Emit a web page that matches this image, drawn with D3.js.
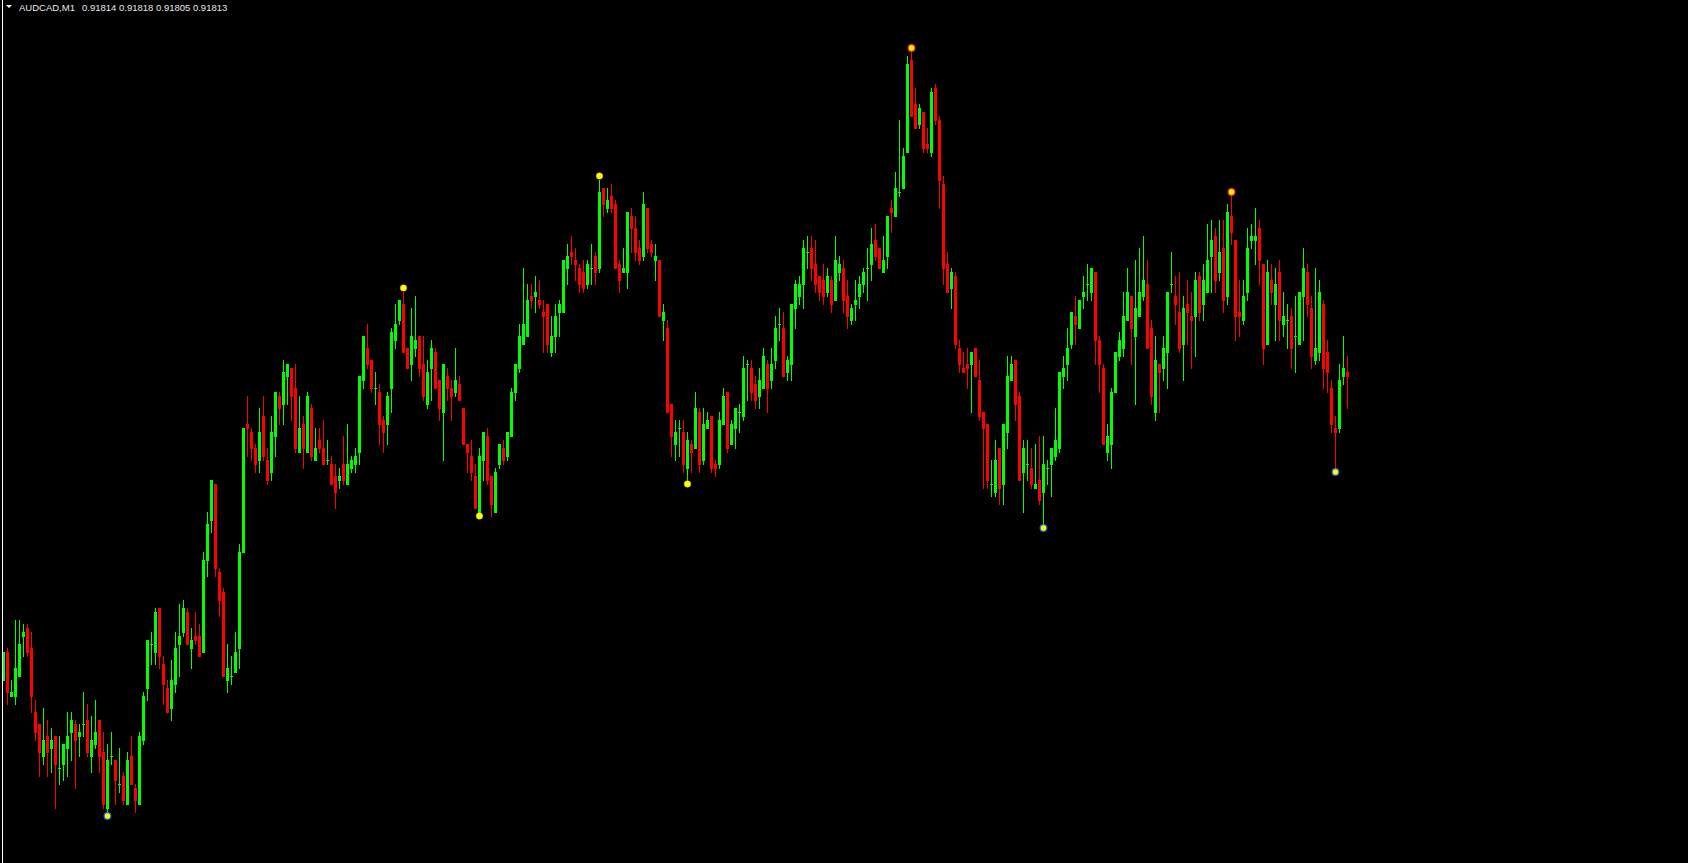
<!DOCTYPE html>
<html><head><meta charset="utf-8">
<script src="https://cdn.jsdelivr.net/npm/d3@7"></script>
<style>html,body{margin:0;padding:0;background:#000;overflow:hidden}</style>
</head><body>
<svg id="chart" width="1688" height="863"></svg>
<script>
const symbol = "AUDCAD,M1";
const open = [
0.91737,0.91744,0.91733,0.91733,0.91738,0.91748,0.91750,0.91745,0.91729,0.91726,
0.91718,0.91723,0.91720,0.91723,0.91715,0.91716,0.91720,0.91724,0.91726,0.91723,
0.91726,0.91727,0.91718,0.91721,0.91727,0.91719,0.91705,0.91718,0.91717,0.91711,
0.91713,0.91706,0.91718,0.91710,0.91706,0.91722,0.91735,0.91746,0.91744,0.91755,
0.91741,0.91735,0.91730,0.91736,0.91746,0.91749,0.91754,0.91745,0.91748,0.91748,
0.91744,0.91767,0.91777,0.91786,0.91764,0.91759,0.91737,0.91738,0.91739,0.91745,
0.91769,0.91801,0.91799,0.91795,0.91792,0.91803,0.91792,0.91789,0.91798,0.91808,
0.91806,0.91813,0.91815,0.91810,0.91794,0.91801,0.91794,0.91805,0.91792,0.91797,
0.91795,0.91792,0.91791,0.91788,0.91787,0.91791,0.91786,0.91790,0.91791,0.91794,
0.91812,0.91820,0.91817,0.91810,0.91809,0.91802,0.91801,0.91810,0.91822,0.91827,
0.91831,0.91820,0.91816,0.91820,0.91823,0.91816,0.91806,0.91815,0.91819,0.91812,
0.91804,0.91813,0.91810,0.91809,0.91811,0.91805,0.91796,0.91793,0.91788,0.91779,
0.91792,0.91798,0.91788,0.91779,0.91791,0.91795,0.91793,0.91798,0.91809,0.91815,
0.91821,0.91823,0.91833,0.91833,0.91832,0.91829,0.91831,0.91819,0.91823,0.91829,
0.91829,0.91840,0.91844,0.91842,0.91840,0.91839,0.91836,0.91840,0.91843,0.91840,
0.91860,0.91855,0.91858,0.91856,0.91841,0.91839,0.91839,0.91853,0.91850,0.91845,
0.91843,0.91855,0.91846,0.91842,0.91842,0.91827,0.91825,0.91806,0.91796,0.91800,
0.91799,0.91790,0.91796,0.91795,0.91804,0.91792,0.91800,0.91803,0.91791,0.91791,
0.91801,0.91809,0.91796,0.91800,0.91804,0.91803,0.91816,0.91815,0.91811,0.91808,
0.91810,0.91816,0.91812,0.91817,0.91826,0.91825,0.91814,0.91816,0.91830,0.91833,
0.91836,0.91844,0.91845,0.91841,0.91838,0.91837,0.91834,0.91837,0.91832,0.91839,
0.91840,0.91833,0.91827,0.91831,0.91833,0.91836,0.91840,0.91841,0.91847,0.91845,
0.91839,0.91843,0.91855,0.91853,0.91859,0.91860,0.91869,0.91892,0.91881,0.91876,
0.91879,0.91871,0.91869,0.91885,0.91877,0.91861,0.91841,0.91835,0.91838,0.91820,
0.91815,0.91816,0.91816,0.91820,0.91812,0.91804,0.91801,0.91786,0.91784,0.91795,
0.91786,0.91799,0.91812,0.91817,0.91808,0.91789,0.91791,0.91790,0.91785,0.91787,
0.91784,0.91790,0.91791,0.91793,0.91795,0.91813,0.91816,0.91821,0.91828,0.91825,
0.91833,0.91836,0.91834,0.91839,0.91822,0.91815,0.91794,0.91796,0.91809,0.91818,
0.91820,0.91827,0.91833,0.91823,0.91828,0.91833,0.91836,0.91825,0.91804,0.91816,
0.91815,0.91819,0.91836,0.91833,0.91829,0.91821,0.91831,0.91828,0.91828,0.91838,
0.91831,0.91834,0.91843,0.91848,0.91839,0.91845,0.91833,0.91853,0.91847,0.91829,
0.91827,0.91834,0.91847,0.91847,0.91850,0.91841,0.91821,0.91837,0.91831,0.91839,
0.91826,0.91827,0.91828,0.91823,0.91821,0.91833,0.91839,0.91830,0.91817,0.91819,
0.91831,0.91819,0.91810,0.91800,0.91800,0.91813,0.91814];
const high = [
0.91744,0.91745,0.91737,0.91752,0.91752,0.91751,0.91751,0.91749,0.91732,0.91726,
0.91730,0.91727,0.91725,0.91723,0.91723,0.91721,0.91729,0.91729,0.91727,0.91726,
0.91734,0.91731,0.91728,0.91732,0.91727,0.91724,0.91721,0.91724,0.91717,0.91720,
0.91714,0.91719,0.91723,0.91711,0.91724,0.91734,0.91747,0.91749,0.91755,0.91755,
0.91743,0.91737,0.91742,0.91749,0.91756,0.91757,0.91755,0.91750,0.91754,0.91751,
0.91769,0.91779,0.91787,0.91786,0.91765,0.91760,0.91746,0.91743,0.91749,0.91771,
0.91800,0.91808,0.91800,0.91796,0.91805,0.91808,0.91795,0.91803,0.91809,0.91809,
0.91817,0.91816,0.91815,0.91816,0.91808,0.91803,0.91809,0.91806,0.91800,0.91800,
0.91802,0.91797,0.91793,0.91791,0.91790,0.91798,0.91801,0.91793,0.91795,0.91813,
0.91823,0.91826,0.91817,0.91814,0.91811,0.91803,0.91809,0.91825,0.91831,0.91832,
0.91834,0.91820,0.91830,0.91833,0.91823,0.91823,0.91817,0.91822,0.91820,0.91812,
0.91816,0.91815,0.91812,0.91820,0.91813,0.91805,0.91796,0.91797,0.91791,0.91795,
0.91799,0.91800,0.91788,0.91790,0.91796,0.91797,0.91799,0.91810,0.91816,0.91826,
0.91840,0.91836,0.91836,0.91838,0.91837,0.91832,0.91831,0.91828,0.91831,0.91832,
0.91842,0.91846,0.91848,0.91845,0.91841,0.91842,0.91842,0.91846,0.91844,0.91862,
0.91860,0.91860,0.91861,0.91857,0.91842,0.91845,0.91854,0.91855,0.91853,0.91847,
0.91859,0.91855,0.91847,0.91846,0.91842,0.91831,0.91827,0.91806,0.91802,0.91802,
0.91802,0.91799,0.91797,0.91809,0.91805,0.91805,0.91804,0.91803,0.91792,0.91804,
0.91810,0.91809,0.91802,0.91805,0.91806,0.91818,0.91817,0.91817,0.91813,0.91815,
0.91820,0.91817,0.91820,0.91828,0.91830,0.91829,0.91818,0.91831,0.91837,0.91838,
0.91847,0.91848,0.91848,0.91847,0.91838,0.91841,0.91840,0.91838,0.91848,0.91843,
0.91842,0.91837,0.91831,0.91837,0.91838,0.91840,0.91845,0.91850,0.91851,0.91845,
0.91848,0.91853,0.91857,0.91864,0.91877,0.91870,0.91893,0.91894,0.91885,0.91881,
0.91879,0.91875,0.91885,0.91886,0.91878,0.91863,0.91844,0.91840,0.91839,0.91822,
0.91819,0.91820,0.91819,0.91820,0.91817,0.91804,0.91801,0.91792,0.91797,0.91795,
0.91801,0.91818,0.91818,0.91817,0.91809,0.91797,0.91797,0.91795,0.91796,0.91798,
0.91798,0.91792,0.91795,0.91805,0.91814,0.91818,0.91825,0.91829,0.91833,0.91832,
0.91838,0.91841,0.91840,0.91839,0.91823,0.91816,0.91801,0.91810,0.91819,0.91824,
0.91834,0.91840,0.91833,0.91842,0.91845,0.91848,0.91842,0.91827,0.91823,0.91816,
0.91823,0.91834,0.91844,0.91838,0.91839,0.91833,0.91837,0.91834,0.91839,0.91839,
0.91841,0.91851,0.91852,0.91850,0.91852,0.91852,0.91856,0.91858,0.91847,0.91837,
0.91837,0.91850,0.91851,0.91855,0.91852,0.91841,0.91842,0.91841,0.91840,0.91842,
0.91834,0.91831,0.91830,0.91833,0.91834,0.91845,0.91841,0.91833,0.91840,0.91837,
0.91832,0.91822,0.91812,0.91803,0.91816,0.91823,0.91818];
const low = [
0.91737,0.91731,0.91733,0.91731,0.91738,0.91743,0.91743,0.91729,0.91722,0.91713,
0.91716,0.91713,0.91714,0.91705,0.91711,0.91712,0.91713,0.91717,0.91710,0.91718,
0.91723,0.91718,0.91714,0.91720,0.91714,0.91705,0.91704,0.91716,0.91706,0.91709,
0.91706,0.91706,0.91711,0.91704,0.91706,0.91721,0.91732,0.91741,0.91741,0.91740,
0.91731,0.91729,0.91727,0.91734,0.91738,0.91748,0.91746,0.91740,0.91746,0.91743,
0.91744,0.91763,0.91774,0.91763,0.91753,0.91738,0.91734,0.91736,0.91739,0.91740,
0.91769,0.91793,0.91792,0.91789,0.91789,0.91792,0.91786,0.91787,0.91793,0.91801,
0.91801,0.91806,0.91802,0.91794,0.91794,0.91790,0.91794,0.91792,0.91792,0.91794,
0.91791,0.91791,0.91786,0.91780,0.91785,0.91786,0.91786,0.91789,0.91789,0.91791,
0.91810,0.91815,0.91809,0.91806,0.91796,0.91794,0.91796,0.91804,0.91820,0.91826,
0.91819,0.91815,0.91812,0.91818,0.91813,0.91807,0.91805,0.91807,0.91810,0.91802,
0.91792,0.91807,0.91802,0.91808,0.91807,0.91796,0.91789,0.91787,0.91780,0.91779,
0.91787,0.91786,0.91778,0.91779,0.91790,0.91791,0.91792,0.91798,0.91807,0.91814,
0.91821,0.91823,0.91830,0.91829,0.91830,0.91819,0.91819,0.91818,0.91819,0.91823,
0.91829,0.91836,0.91841,0.91837,0.91834,0.91834,0.91835,0.91836,0.91836,0.91839,
0.91853,0.91854,0.91854,0.91840,0.91834,0.91839,0.91835,0.91844,0.91842,0.91841,
0.91842,0.91844,0.91843,0.91837,0.91828,0.91822,0.91804,0.91793,0.91792,0.91793,
0.91789,0.91787,0.91789,0.91795,0.91789,0.91791,0.91800,0.91789,0.91788,0.91790,
0.91801,0.91794,0.91796,0.91795,0.91799,0.91802,0.91807,0.91807,0.91805,0.91805,
0.91810,0.91804,0.91810,0.91815,0.91822,0.91813,0.91812,0.91812,0.91825,0.91831,
0.91830,0.91840,0.91837,0.91834,0.91832,0.91831,0.91833,0.91829,0.91832,0.91837,
0.91829,0.91825,0.91826,0.91827,0.91830,0.91834,0.91832,0.91837,0.91842,0.91840,
0.91839,0.91840,0.91849,0.91853,0.91858,0.91860,0.91869,0.91878,0.91875,0.91875,
0.91869,0.91869,0.91868,0.91876,0.91855,0.91836,0.91834,0.91830,0.91820,0.91814,
0.91814,0.91810,0.91804,0.91813,0.91802,0.91785,0.91785,0.91783,0.91783,0.91781,
0.91781,0.91795,0.91812,0.91802,0.91787,0.91779,0.91787,0.91785,0.91785,0.91781,
0.91776,0.91786,0.91783,0.91792,0.91794,0.91810,0.91812,0.91820,0.91821,0.91825,
0.91830,0.91832,0.91832,0.91816,0.91809,0.91796,0.91792,0.91790,0.91809,0.91817,
0.91818,0.91827,0.91816,0.91806,0.91828,0.91832,0.91820,0.91806,0.91802,0.91804,
0.91812,0.91810,0.91834,0.91826,0.91819,0.91812,0.91821,0.91815,0.91818,0.91827,
0.91827,0.91834,0.91834,0.91834,0.91837,0.91829,0.91831,0.91846,0.91822,0.91823,
0.91826,0.91832,0.91845,0.91841,0.91836,0.91816,0.91821,0.91831,0.91822,0.91822,
0.91823,0.91820,0.91815,0.91814,0.91821,0.91822,0.91828,0.91815,0.91816,0.91817,
0.91810,0.91809,0.91799,0.91790,0.91799,0.91811,0.91805];
const close = [
0.91744,0.91734,0.91734,0.91740,0.91746,0.91749,0.91744,0.91733,0.91724,0.91719,
0.91722,0.91719,0.91722,0.91716,0.91715,0.91721,0.91723,0.91727,0.91722,0.91724,
0.91726,0.91719,0.91722,0.91724,0.91718,0.91706,0.91717,0.91718,0.91712,0.91711,
0.91707,0.91717,0.91711,0.91707,0.91723,0.91733,0.91747,0.91746,0.91754,0.91743,
0.91736,0.91729,0.91737,0.91745,0.91748,0.91755,0.91746,0.91747,0.91747,0.91743,
0.91767,0.91776,0.91787,0.91765,0.91757,0.91738,0.91740,0.91738,0.91744,0.91769,
0.91800,0.91800,0.91795,0.91791,0.91799,0.91793,0.91787,0.91799,0.91809,0.91805,
0.91814,0.91816,0.91808,0.91795,0.91800,0.91795,0.91808,0.91793,0.91795,0.91795,
0.91791,0.91792,0.91786,0.91784,0.91788,0.91787,0.91791,0.91792,0.91793,0.91813,
0.91823,0.91816,0.91810,0.91810,0.91801,0.91799,0.91808,0.91824,0.91826,0.91832,
0.91819,0.91815,0.91823,0.91822,0.91815,0.91808,0.91814,0.91820,0.91810,0.91805,
0.91816,0.91810,0.91808,0.91812,0.91807,0.91796,0.91794,0.91789,0.91780,0.91793,
0.91799,0.91787,0.91781,0.91789,0.91796,0.91792,0.91799,0.91809,0.91816,0.91823,
0.91826,0.91832,0.91832,0.91834,0.91831,0.91828,0.91821,0.91823,0.91828,0.91831,
0.91842,0.91843,0.91843,0.91841,0.91836,0.91835,0.91841,0.91840,0.91839,0.91859,
0.91856,0.91857,0.91855,0.91840,0.91837,0.91840,0.91854,0.91850,0.91844,0.91842,
0.91856,0.91845,0.91844,0.91843,0.91828,0.91829,0.91804,0.91798,0.91799,0.91800,
0.91791,0.91797,0.91794,0.91805,0.91791,0.91801,0.91802,0.91790,0.91790,0.91802,
0.91808,0.91795,0.91801,0.91805,0.91804,0.91815,0.91816,0.91809,0.91807,0.91812,
0.91818,0.91810,0.91816,0.91825,0.91826,0.91813,0.91817,0.91831,0.91836,0.91836,
0.91845,0.91844,0.91840,0.91836,0.91834,0.91833,0.91838,0.91831,0.91842,0.91841,
0.91832,0.91828,0.91830,0.91832,0.91836,0.91839,0.91840,0.91846,0.91843,0.91840,
0.91842,0.91853,0.91854,0.91860,0.91859,0.91868,0.91891,0.91878,0.91875,0.91880,
0.91870,0.91870,0.91884,0.91877,0.91862,0.91840,0.91834,0.91839,0.91821,0.91816,
0.91814,0.91815,0.91819,0.91813,0.91803,0.91800,0.91787,0.91786,0.91792,0.91785,
0.91801,0.91813,0.91816,0.91806,0.91787,0.91795,0.91791,0.91786,0.91786,0.91782,
0.91791,0.91790,0.91795,0.91797,0.91814,0.91815,0.91820,0.91829,0.91826,0.91832,
0.91834,0.91836,0.91840,0.91822,0.91816,0.91796,0.91798,0.91809,0.91819,0.91822,
0.91828,0.91834,0.91825,0.91830,0.91834,0.91837,0.91820,0.91808,0.91817,0.91814,
0.91820,0.91834,0.91836,0.91831,0.91820,0.91830,0.91829,0.91827,0.91837,0.91829,
0.91837,0.91842,0.91847,0.91837,0.91844,0.91832,0.91854,0.91849,0.91828,0.91828,
0.91833,0.91845,0.91848,0.91848,0.91842,0.91820,0.91839,0.91834,0.91836,0.91827,
0.91828,0.91827,0.91820,0.91823,0.91834,0.91840,0.91831,0.91818,0.91820,0.91834,
0.91815,0.91814,0.91801,0.91799,0.91812,0.91815,0.91813];
const swingHighs = [100, 149, 227, 307];
const swingLows = [26, 119, 171, 260, 333];
const ringedHighs = [227, 307];
const ringedLows = [26, 260, 333];

const W = 1688, H = 863;
const n = close.length;
const svg = d3.select("#chart");
svg.append("rect").attr("width", W).attr("height", H).attr("fill", "#000");

const x = d3.scaleBand().domain(d3.range(n)).range([2, 2 + 4 * n - 1]).paddingInner(0.25);
const y = d3.scaleLinear().domain([0.9169125, 0.91907]).range([H, 0]);
const X = i => Math.round(x(i));
const Y = v => Math.round(y(v));
const bw = Math.round(x.bandwidth());
const col = i => close[i] >= open[i] ? "#00ff00" : "#ff0000";

const g = svg.append("g").attr("shape-rendering", "crispEdges");
const c = g.selectAll("g.c").data(d3.range(n)).join("g").attr("class", "c");
c.append("rect")
  .attr("x", i => X(i) + 1).attr("width", 1)
  .attr("y", i => Y(high[i]))
  .attr("height", i => Y(low[i]) - Y(high[i]) + 1)
  .attr("fill", col);
c.append("rect")
  .attr("x", i => X(i)).attr("width", bw)
  .attr("y", i => Y(Math.max(open[i], close[i])))
  .attr("height", i => Math.abs(Y(open[i]) - Y(close[i])) + 1)
  .attr("fill", col);

// swing markers
const mk = svg.append("g");
mk.selectAll("circle.h").data(swingHighs).join("circle")
  .attr("cx", i => X(i) + 1.5).attr("cy", i => Y(high[i]) - 4)
  .attr("r", 3.3)
  .attr("fill", "#ffff00")
  .attr("stroke", i => ringedHighs.includes(i) ? "#ff3000" : "#e09000")
  .attr("stroke-width", i => ringedHighs.includes(i) ? 1.3 : 0.8)
  .attr("stroke-opacity", i => ringedHighs.includes(i) ? 1 : 0.6);
mk.selectAll("circle.l").data(swingLows).join("circle")
  .attr("cx", i => X(i) + 1.5).attr("cy", i => Y(low[i]) + 4)
  .attr("r", 3.3)
  .attr("fill", "#ffff00")
  .attr("stroke", i => ringedLows.includes(i) ? "#2a6ad0" : "#e0b000")
  .attr("stroke-width", i => ringedLows.includes(i) ? 1.3 : 0.8)
  .attr("stroke-opacity", i => ringedLows.includes(i) ? 1 : 0.6);

// left border line
svg.append("rect").attr("x", 2).attr("y", 0).attr("width", 1).attr("height", H)
  .attr("fill", "#ffffff").attr("shape-rendering", "crispEdges");

// header
svg.append("path").attr("d", "M6,5 L12,5 L9,8 Z").attr("fill", "#ffffff");
const last = n - 1;
const fmt = d3.format(".5f");
const hdr = svg.append("text").attr("y", 11)
  .attr("font-family", "'Liberation Sans', Arial, sans-serif")
  .attr("font-size", "9.5px").attr("fill", "#e8e8e8");
hdr.append("tspan").attr("x", 19).text(symbol);
hdr.append("tspan").attr("x", 82)
  .text([open[last], high[last], low[last], close[last]].map(fmt).join(" "));
</script>
</body></html>
